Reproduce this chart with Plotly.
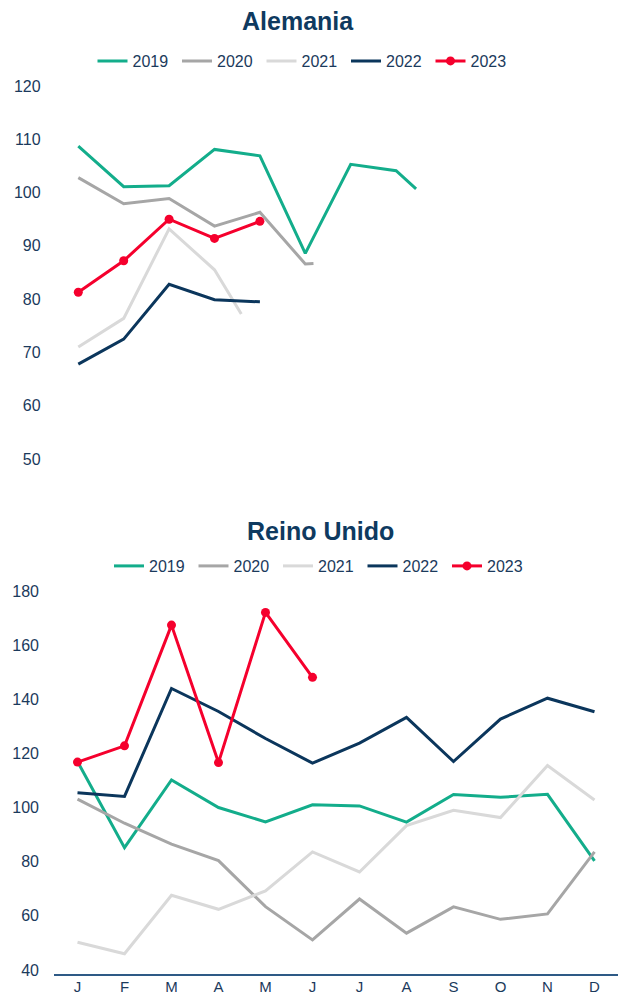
import plotly.graph_objects as go

W, H = 618, 996

months = ["J", "F", "M", "A", "M", "J", "J", "A", "S", "O", "N", "D"]
month_idx = list(range(12))
years = ["2019", "2020", "2021", "2022", "2023"]

# Alemania (month index, value) - some series are cut mid-segment in the source
de_2019_x = [0, 1, 2, 3, 4, 5, 6, 7, 7.44]
de_2019 = [108.7, 101.1, 101.3, 108.1, 106.9, 88.6, 105.3, 104.1, 100.7]
de_2020_x = [0, 1, 2, 3, 4, 5, 5.18]
de_2020 = [102.8, 97.9, 98.9, 93.7, 96.3, 86.6, 86.7]
de_2021_x = [0, 1, 2, 3, 3.59]
de_2021 = [71.0, 76.4, 93.2, 85.5, 77.2]
de_2022_x = [0, 1, 2, 3, 4]
de_2022 = [67.8, 72.5, 82.8, 79.9, 79.5]
de_2023_x = [0, 1, 2, 3, 4]
de_2023 = [81.3, 87.2, 95.0, 91.4, 94.6]
de_ticks = [50, 60, 70, 80, 90, 100, 110, 120]

# Reino Unido
uk_2019 = [117.0, 85.2, 110.2, 100.0, 94.7, 101.0, 100.6, 94.6, 104.8, 103.8, 104.9, 80.3]
uk_2020 = [103.1, 94.2, 86.5, 80.4, 63.4, 51.1, 66.2, 53.6, 63.3, 58.7, 60.7, 83.6]
uk_2021 = [50.2, 46.0, 67.6, 62.4, 69.2, 83.6, 76.2, 93.3, 99.0, 96.3, 115.5, 102.8]
uk_2022 = [105.5, 104.1, 144.0, 135.5, 125.5, 116.4, 123.8, 133.3, 117.0, 132.7, 140.4, 135.4]
uk_2023 = [116.8, 122.8, 167.4, 116.6, 172.1, 148.1]
uk_ticks = [40, 60, 80, 100, 120, 140, 160, 180]

colors = ["#13AD8B", "#A6A6A6", "#D9D9D9", "#0B365C", "#F5002D"]
NAVY = "#0E3A60"
TXT = "#1B3A5C"
FONT = "Liberation Sans, Arial, sans-serif"


def px_x(p):
    return p / W


def px_y(p):
    return 1 - p / H


fig = go.Figure()

de_series = [(de_2019_x, de_2019), (de_2020_x, de_2020), (de_2021_x, de_2021),
             (de_2022_x, de_2022), (de_2023_x, de_2023)]
for i, (xs, ys) in enumerate(de_series):
    is23 = years[i] == "2023"
    fig.add_trace(go.Scatter(
        x=xs, y=ys, name=years[i], xaxis="x", yaxis="y", legend="legend",
        mode="lines+markers" if is23 else "lines",
        line=dict(color=colors[i], width=3),
        marker=dict(size=9, color=colors[i]),
        hoverinfo="skip"))

uk_series = [uk_2019, uk_2020, uk_2021, uk_2022, uk_2023]
for i, ys in enumerate(uk_series):
    is23 = years[i] == "2023"
    fig.add_trace(go.Scatter(
        x=month_idx[:len(ys)], y=ys, name=years[i], xaxis="x2", yaxis="y2", legend="legend2",
        mode="lines+markers" if is23 else "lines",
        line=dict(color=colors[i], width=3),
        marker=dict(size=9, color=colors[i]),
        hoverinfo="skip"))

legend_common = dict(orientation="h", xanchor="left", yanchor="middle",
                     font=dict(family=FONT, size=16, color=TXT),
                     bgcolor="rgba(0,0,0,0)", itemwidth=30, entrywidth=39.5,
                     itemclick=False, itemdoubleclick=False)

fig.update_layout(
    template="none",
    width=W, height=H,
    margin=dict(l=0, r=0, t=0, b=0, pad=0, autoexpand=False),
    paper_bgcolor="white", plot_bgcolor="white",
    font=dict(family=FONT, color=TXT),
    showlegend=True,
    legend=dict(x=px_x(92.5), y=px_y(61), **legend_common),
    legend2=dict(x=px_x(109), y=px_y(566), **legend_common),
    xaxis=dict(domain=[px_x(55.6), px_x(600.4)], range=[-0.5, 11.5], anchor="y",
               visible=False, showgrid=False, zeroline=False, automargin=False),
    yaxis=dict(domain=[px_y(459), px_y(86)], range=[50, 120], anchor="x",
               tickvals=de_ticks, showgrid=False, zeroline=False, showline=False,
               ticks="", tickfont=dict(family=FONT, size=16, color=TXT),
               ticklabelstandoff=14, automargin=False),
    xaxis2=dict(domain=[px_x(54), 1.0], range=[-0.5, 11.5], anchor="y2",
                tickvals=month_idx, ticktext=months, showgrid=False, zeroline=False,
                showline=True, linecolor="#2E5A86", linewidth=1.5, ticks="",
                tickfont=dict(family=FONT, size=15, color=TXT), automargin=False,
                ticklabelstandoff=-2),
    yaxis2=dict(domain=[px_y(974), px_y(585.6)], range=[38.5, 182], anchor="x2",
                tickvals=uk_ticks, showgrid=False, zeroline=False, showline=False,
                ticks="", tickfont=dict(family=FONT, size=16, color=TXT),
                ticklabelstandoff=14, automargin=False),
    annotations=[
        dict(text="<b>Alemania</b>", x=px_x(298), y=px_y(21), xref="paper", yref="paper",
             xanchor="center", yanchor="middle", showarrow=False,
             font=dict(family=FONT, size=25, color=NAVY)),
        dict(text="<b>Reino Unido</b>", x=px_x(320), y=px_y(531), xref="paper", yref="paper",
             xanchor="center", yanchor="middle", showarrow=False,
             font=dict(family=FONT, size=25, color=NAVY)),
    ],
)

fig.write_html(
    "out.html",
    config={"displayModeBar": False, "staticPlot": True},
    post_script="document.body.style.margin='0';document.body.style.overflow='hidden';",
)
